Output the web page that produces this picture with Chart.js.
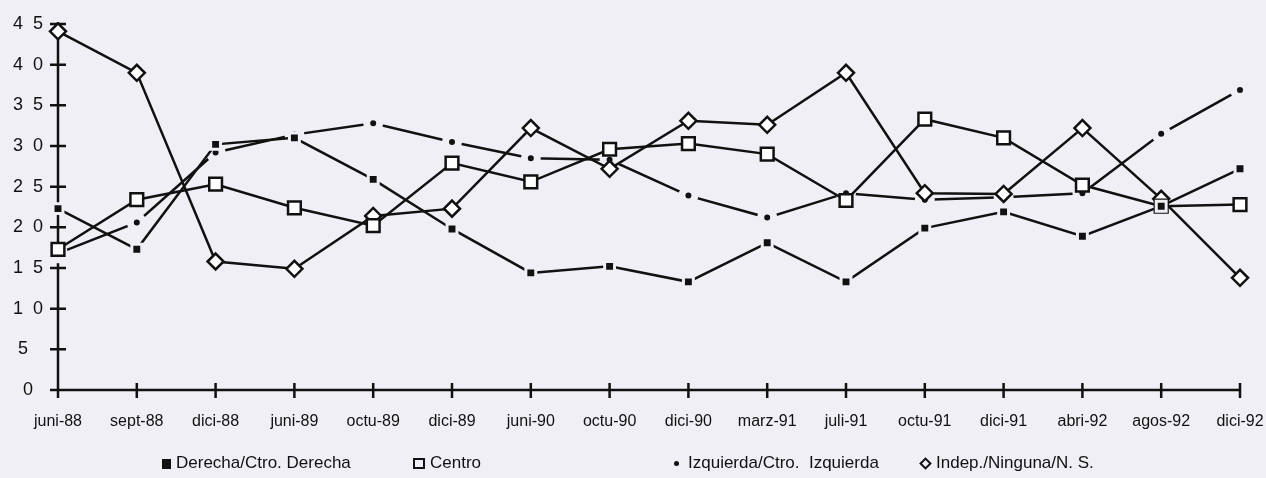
<!DOCTYPE html>
<html>
<head>
<meta charset="utf-8">
<script src="https://cdn.jsdelivr.net/npm/chart.js@4.4.1/dist/chart.umd.min.js"></script>
<style>
  html, body { margin: 0; padding: 0; background: #efeff5; }
  #wrap { position: relative; width: 1266px; height: 478px; }
  #legend { position: absolute; top: 452px; left: 0; width: 1266px; height: 22px;
    font-family: 'Liberation Sans', Arial, sans-serif; font-size: 17px; color: #111; }
  #legend .item { position: absolute; top: 0; white-space: nowrap; line-height: 22px; }
  #legend .mk { display: inline-block; vertical-align: middle; margin-right: 5px; box-sizing: border-box; }
  .mk-fsq { width: 9px; height: 10px; background: #111; }
  .mk-osq { width: 12px; height: 11px; border: 2px solid #111; }
  .mk-dot { width: 5px; height: 5px; border-radius: 50%; background: #111; margin-left: 2px; margin-right: 9px !important; }
  .mk-dia { width: 9px; height: 9px; border: 2px solid #111; transform: rotate(45deg); margin-left: 2px; margin-right: 6px !important; }
</style>
</head>
<body>
<div id="wrap">
  <canvas id="chart"></canvas>
  <div id="legend">
    <div class="item" style="left:162px"><span class="mk mk-fsq"></span>Derecha/Ctro. Derecha</div>
    <div class="item" style="left:413px"><span class="mk mk-osq"></span>Centro</div>
    <div class="item" style="left:672px"><span class="mk mk-dot"></span>Izquierda/Ctro.&nbsp; Izquierda</div>
    <div class="item" style="left:919px"><span class="mk mk-dia"></span>Indep./Ninguna/N. S.</div>
  </div>
</div>
<script>
var periods = ['juni-88', 'sept-88', 'dici-88', 'juni-89', 'octu-89', 'dici-89', 'juni-90', 'octu-90',
  'dici-90', 'marz-91', 'juli-91', 'octu-91', 'dici-91', 'abri-92', 'agos-92', 'dici-92'];

var derecha   = [22.3, 17.3, 30.2, 31.0, 25.9, 19.8, 14.4, 15.2, 13.3, 18.1, 13.3, 19.9, 21.9, 18.9, 22.6, 27.2];
var centro    = [17.3, 23.4, 25.3, 22.4, 20.2, 27.9, 25.6, 29.6, 30.3, 29.0, 23.3, 33.3, 31.0, 25.2, 22.6, 22.8];
var izquierda = [16.8, 20.6, 29.2, 31.4, 32.8, 30.5, 28.5, 28.3, 23.9, 21.2, 24.2, 23.4, 23.7, 24.2, 31.5, 36.9];
var indep     = [44.1, 39.0, 15.8, 14.9, 21.4, 22.3, 32.2, 27.2, 33.1, 32.6, 39.0, 24.2, 24.1, 32.2, 23.5, 13.8];

// labels printed on the y axis, from 0 up to 45
var yTickLabels = ['0  ', '5   ', '1  0', '1  5', '2  0', '2  5', '3  0', '3  5', '4  0', '4  5'];

var ink = '#111111';
var paper = '#efeff5';

// axis lines with ticks that cross them, like the printed figure
var crossTicks = {
  id: 'crossTicks',
  beforeDatasetsDraw: function(chart) {
    var ctx = chart.ctx;
    var xs = chart.scales.x;
    var ys = chart.scales.y;
    var x0 = xs.left;
    var y0 = ys.bottom;
    ctx.save();
    ctx.strokeStyle = ink;
    ctx.lineWidth = 2.5;
    ctx.beginPath();
    ctx.moveTo(x0, ys.top - 2);
    ctx.lineTo(x0, y0);
    ctx.moveTo(x0 - 8, y0);
    ctx.lineTo(xs.right, y0);
    for (var i = 0; i < ys.ticks.length; i++) {
      var ty = ys.getPixelForTick(i);
      ctx.moveTo(x0 - 8, ty);
      ctx.lineTo(x0 + 8, ty);
    }
    for (var j = 0; j < xs.ticks.length; j++) {
      var tx = xs.getPixelForTick(j);
      ctx.moveTo(tx, y0 - 7);
      ctx.lineTo(tx, y0 + 8);
    }
    ctx.stroke();
    ctx.restore();
  }
};

var ctx = document.getElementById('chart');
var chart = new Chart(ctx, {
  type: 'line',
  data: {
    labels: periods,
    datasets: [{
      label: 'Derecha/Ctro. Derecha',
      data: derecha,
      borderColor: ink,
      borderWidth: 2.5,
      pointStyle: 'rect',
      pointRadius: 7,
      pointBackgroundColor: ink,
      pointBorderColor: paper,
      pointBorderWidth: 3,
      lineTension: 0,
      fill: false,
      order: 1
    },{
      label: 'Centro',
      data: centro,
      borderColor: ink,
      borderWidth: 2.5,
      pointStyle: 'rect',
      pointRadius: 9,
      pointBackgroundColor: '#ffffff',
      pointBorderColor: ink,
      pointBorderWidth: 2.5,
      lineTension: 0,
      fill: false,
      order: 2
    },{
      label: 'Izquierda/Ctro. Izquierda',
      data: izquierda,
      borderColor: ink,
      borderWidth: 2.5,
      pointStyle: 'circle',
      pointRadius: 6.5,
      pointBackgroundColor: ink,
      pointBorderColor: paper,
      pointBorderWidth: 7,
      lineTension: 0,
      fill: false,
      order: 4
    },{
      label: 'Indep./Ninguna/N. S.',
      data: indep,
      borderColor: ink,
      borderWidth: 2.5,
      pointStyle: 'rectRot',
      pointRadius: 8,
      pointBackgroundColor: '#ffffff',
      pointBorderColor: ink,
      pointBorderWidth: 2.5,
      lineTension: 0,
      fill: false,
      order: 3
    }]
  },
  options: {
    responsive: true,
    maintainAspectRatio: false,
    animation: false,
    layout: { padding: { top: 24, right: 26, bottom: 0, left: 0 } },
    plugins: {
      legend: { display: false },
      tooltip: { enabled: false }
    },
    scales: {
      x: {
        offset: false,
        grid: { display: false },
        border: { display: false },
        ticks: {
          color: ink,
          padding: 14,
          maxRotation: 0,
          autoSkip: false,
          font: { family: "'Liberation Sans', Arial, sans-serif", size: 16 }
        },
        afterFit: function(scale) {
          scale.height = 88;
          scale.paddingLeft = 0;
          scale.paddingRight = 0;
        }
      },
      y: {
        min: 0,
        max: 45,
        grid: { display: false },
        border: { display: false },
        ticks: {
          stepSize: 5,
          color: ink,
          padding: 7,
          font: { family: "'Liberation Sans', Arial, sans-serif", size: 18 },
          callback: function(value, index) { return yTickLabels[index]; }
        },
        afterFit: function(scale) { scale.width = 58; }
      }
    }
  },
  plugins: [crossTicks]
});
</script>
</body>
</html>
